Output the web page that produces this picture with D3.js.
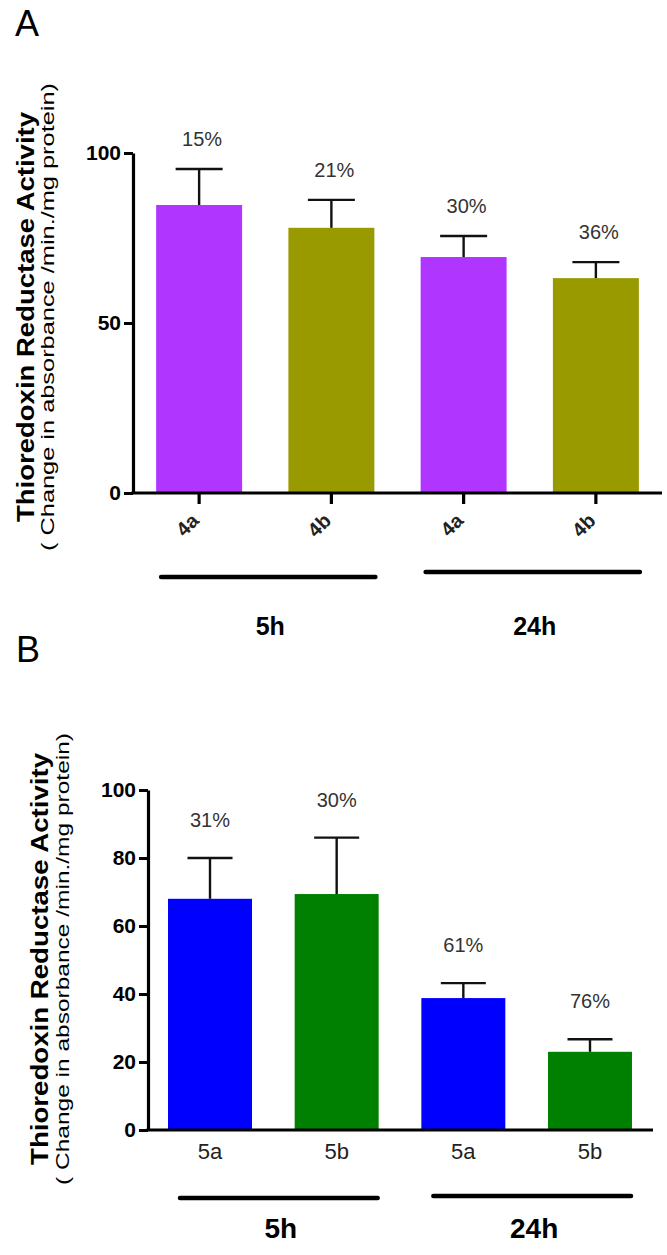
<!DOCTYPE html>
<html>
<head>
<meta charset="utf-8">
<script src="https://cdn.jsdelivr.net/npm/d3@7"></script>
<style>
  body { margin: 0; background: #fff; }
  svg { display: block; font-family: "Liberation Sans", Arial, sans-serif; }
</style>
</head>
<body>
<svg id="chart" width="667" height="1255"></svg>
<script>
// panel A data
var catsA = ["4a", "4b", "4a", "4b"];
var meansA = [84.7, 78, 69.4, 63.2];
var errA = [10.6, 8.2, 6.2, 4.7];
var pctA = ["15%", "21%", "30%", "36%"];
var ticksA = [0, 50, 100];

// panel B data
var catsB = ["5a", "5b", "5a", "5b"];
var meansB = [68, 69.4, 38.8, 23];
var errB = [12, 16.6, 4.4, 3.7];
var pctB = ["31%", "30%", "61%", "76%"];
var ticksB = [0, 20, 40, 60, 80, 100];

var groups = ["5h", "24h"];

var svg = d3.select("#chart");

function drawPanel(o) {
    var g = svg.append("g");
    var x = d3.scaleBand()
        .domain(d3.range(o.cats.length))
        .range([o.left, o.right])
        .paddingInner(o.padIn)
        .paddingOuter(o.padOut);
    var y = d3.scaleLinear().domain([0, 100]).range([o.bottom, o.top]);
    var bw = x.bandwidth();

    // bars
    g.selectAll("rect.bar")
        .data(o.means)
        .enter().append("rect")
        .attr("class", "bar")
        .attr("x", function(d, i){ return x(i); })
        .attr("y", function(d){ return y(d); })
        .attr("width", bw)
        .attr("height", function(d){ return y(0) - y(d); })
        .attr("fill", function(d, i){ return o.colors[i % 2]; });

    // error bars (upper only)
    var eb = g.selectAll("g.err")
        .data(o.means)
        .enter().append("g")
        .attr("class", "err")
        .attr("stroke", "#111")
        .attr("stroke-width", 2.4);
    eb.append("line")
        .attr("x1", function(d, i){ return x(i) + bw / 2; })
        .attr("x2", function(d, i){ return x(i) + bw / 2; })
        .attr("y1", function(d){ return y(d); })
        .attr("y2", function(d, i){ return y(d + o.errs[i]); });
    eb.append("line")
        .attr("x1", function(d, i){ return x(i) + bw / 2 - o.cap; })
        .attr("x2", function(d, i){ return x(i) + bw / 2 + o.cap; })
        .attr("y1", function(d, i){ return y(d + o.errs[i]); })
        .attr("y2", function(d, i){ return y(d + o.errs[i]); });

    // percent labels
    g.selectAll("text.pct")
        .data(o.pcts)
        .enter().append("text")
        .attr("class", "pct")
        .attr("x", function(d, i){ return x(i) + bw / 2 + o.pctShift; })
        .attr("y", function(d, i){ return y(o.means[i] + o.errs[i]) - o.pctGap; })
        .attr("text-anchor", "middle")
        .attr("font-size", 20)
        .attr("fill", "#333")
        .text(function(d){ return d; });

    // y axis
    var yAxis = d3.axisLeft(y).tickValues(o.yticks).tickSize(9).tickPadding(3).tickSizeOuter(0);
    var ya = g.append("g")
        .attr("transform", "translate(" + o.left + ",0)")
        .call(yAxis);
    ya.select(".domain").attr("stroke", "#000").attr("stroke-width", 3.2);
    ya.selectAll(".tick line").attr("stroke", "#000").attr("stroke-width", 3);
    ya.selectAll(".tick text")
        .attr("font-size", 21)
        .attr("font-weight", "bold")
        .attr("fill", "#000");

    // x axis
    var xAxis = d3.axisBottom(x)
        .tickFormat(function(i){ return o.cats[i]; })
        .tickSize(o.xTick).tickSizeOuter(0).tickPadding(o.xPad);
    var xa = g.append("g")
        .attr("transform", "translate(0," + o.bottom + ")")
        .call(xAxis);
    xa.select(".domain")
        .attr("d", "M" + (o.left - 1.6) + ",0H" + o.axisEnd)
        .attr("stroke", "#000").attr("stroke-width", 3.2);
    xa.selectAll(".tick line").attr("stroke", "#000").attr("stroke-width", 3.2);
    var xt = xa.selectAll(".tick text")
        .attr("font-size", o.xFont)
        .attr("fill", "#222");
    if (o.rotate) {
        xt.attr("x", 0).attr("y", 0)
          .attr("text-anchor", "end")
          .attr("dy", "0.35em")
          .attr("transform", "translate(-4,24) rotate(-45)")
          .attr("font-weight", "bold");
    }

    // group lines and labels
    groups.forEach(function(name, k){
        var x0 = x(k * 2) + o.lineIn;
        var x1 = x(k * 2 + 1) + bw - o.lineOut;
        g.append("line")
            .attr("x1", x0).attr("x2", x1)
            .attr("y1", o.lineY[k]).attr("y2", o.lineY[k])
            .attr("stroke", "#000").attr("stroke-width", 4.5)
            .attr("stroke-linecap", "round");
        g.append("text")
            .attr("x", (x0 + x1) / 2 + 2)
            .attr("y", o.groupY)
            .attr("text-anchor", "middle")
            .attr("font-size", o.groupFont)
            .attr("font-weight", "bold")
            .text(name);
    });

    // axis titles
    var mid = (o.top + o.bottom) / 2 - o.titleShift;
    g.append("text")
        .attr("transform", "translate(" + o.titleX + "," + mid + ") rotate(-90)")
        .attr("text-anchor", "middle")
        .attr("font-size", 23)
        .attr("font-weight", "bold")
        .attr("textLength", o.titleLen)
        .attr("lengthAdjust", "spacingAndGlyphs")
        .text("Thioredoxin Reductase Activity");
    g.append("text")
        .attr("transform", "translate(" + o.subX + "," + mid + ") rotate(-90)")
        .attr("text-anchor", "middle")
        .attr("font-size", 18)
        .attr("textLength", o.subLen)
        .attr("lengthAdjust", "spacingAndGlyphs")
        .text("( Change in absorbance /min./mg protein)");

    // panel letter
    svg.append("text")
        .attr("x", o.letterX).attr("y", o.letterY)
        .attr("font-size", 36)
        .text(o.letter);
}

drawPanel({
    letter: "A", letterX: 15, letterY: 36,
    cats: catsA, means: meansA, errs: errA, pcts: pctA, yticks: ticksA,
    colors: ["#b036ff", "#999900"],
    left: 133, right: 662, axisEnd: 662, top: 153, bottom: 493,
    padIn: 0.35, padOut: 0.175, cap: 23.5, pctGap: 23, pctShift: 3,
    xTick: 11, xPad: 6, xFont: 20, rotate: true,
    lineY: [577, 572], lineIn: 5, lineOut: -1, groupY: 635, groupFont: 25,
    titleX: 34, subX: 54, titleShift: 6, titleLen: 410, subLen: 468
});

drawPanel({
    letter: "B", letterX: 16, letterY: 662,
    cats: catsB, means: meansB, errs: errB, pcts: pctB, yticks: ticksB,
    colors: ["#0000ff", "#008000"],
    left: 148, right: 652, axisEnd: 653, top: 790, bottom: 1130,
    padIn: 0.337, padOut: 0.158, cap: 22.5, pctGap: 31, pctShift: 0,
    xTick: 0, xPad: 13, xFont: 22, rotate: false,
    lineY: [1198, 1196], lineIn: 12, lineOut: 1, groupY: 1238, groupFont: 28,
    titleX: 48, subX: 69, titleShift: 1, titleLen: 412, subLen: 452
});
</script>
</body>
</html>
